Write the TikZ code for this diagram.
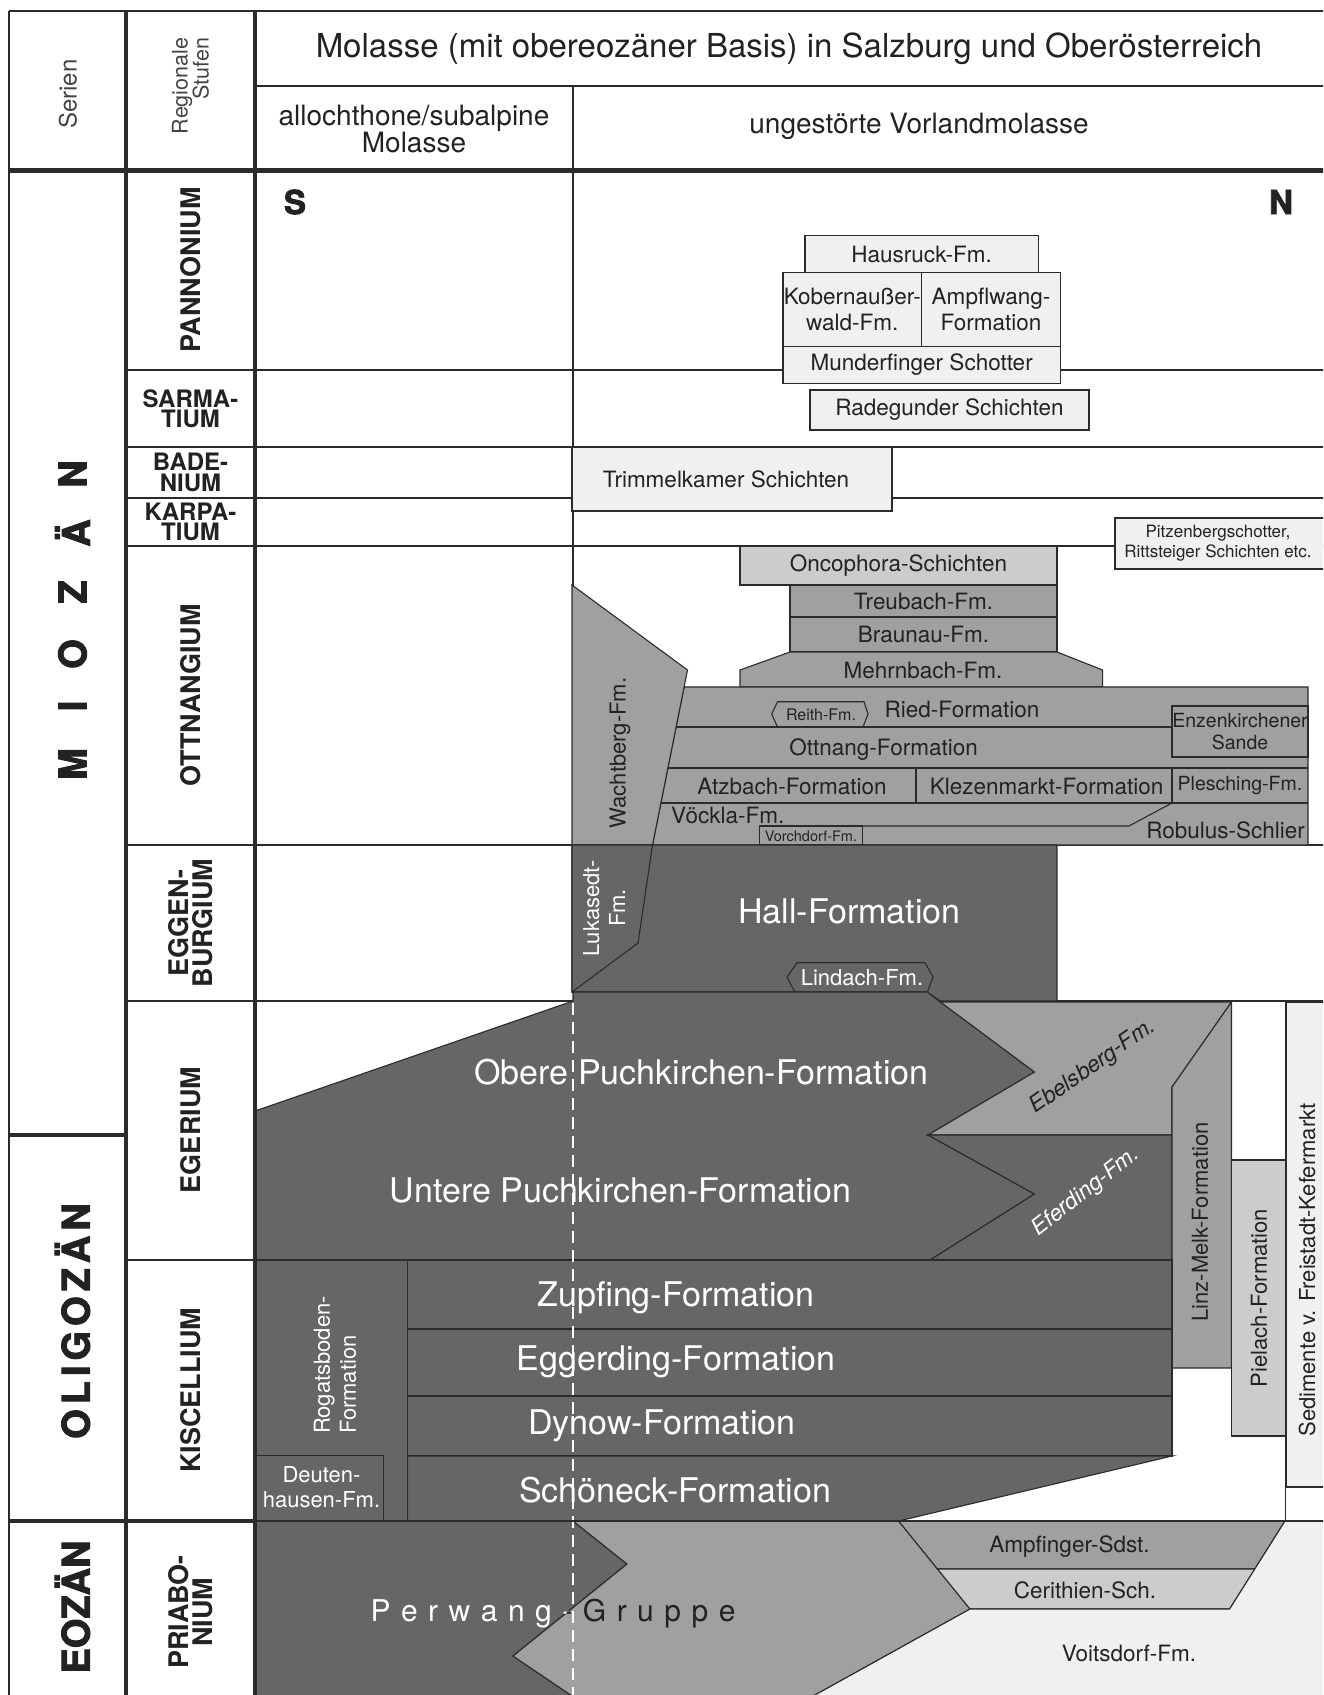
\documentclass[tikz,border=0pt]{standalone}
\usepackage{fontspec}
\setmainfont{TeX Gyre Heros}
\newfontfamily\heavyf[FakeBold=2.4]{TeX Gyre Heros}
\definecolor{dk}{HTML}{666666}
\definecolor{md}{HTML}{A0A0A0}
\definecolor{lt}{HTML}{CCCCCC}
\definecolor{pl}{HTML}{F0F0F0}
\definecolor{lc}{HTML}{2B2B2B}
\definecolor{tc}{HTML}{222222}
\newcommand\fsz[2]{\fontsize{#1}{#2}\selectfont}
\newcommand\perwangtxt{P\kern10.5pt e\kern10.5pt r\kern10.5pt w\kern10.5pt a\kern10.5pt n\kern10.5pt g\kern10.5pt -\kern10.5pt G\kern10.5pt r\kern10.5pt u\kern10.5pt p\kern10.5pt p\kern10.5pt e}
\begin{document}
\begin{tikzpicture}[x=1pt,y=-1pt,
  gridln/.style={draw=lc, line width=1.2pt},
  reg/.style={draw=lc, line width=1.1pt, line join=miter},
  txt/.style={inner sep=0pt, text=tc, align=center, font=\fsz{22.5}{26}},
  wtx/.style={txt, text=white},
  bigw/.style={inner sep=0pt, text=white, font=\fsz{34}{38}},
  stage/.style={inner sep=0pt, text=tc, align=center, font=\bfseries\fsz{27}{24}},
  stagesm/.style={stage, font=\bfseries\fsz{24}{20.5}},
  epoch/.style={inner sep=0pt, text=tc, font=\heavyf\bfseries\fsz{38}{40}}]
\clip (0,0) rectangle (1323,1695);
\fill[white] (0,0) rectangle (1323,1695);

% --- table grid -------------------------------------------------------
\draw[gridln] (9,11) -- (1330,11);
\draw[gridln] (9,11) -- (9,1700);
\draw[gridln] (255,86) -- (1330,86);
\draw[gridln] (573,86) -- (573,845);
\foreach \yy in {370,447,498,546,845,1001}
  \draw[gridln] (126,\yy) -- (1330,\yy);
\draw[gridln] (126,1260) -- (255,1260);
\draw[gridln] (1285.5,1487) -- (1285.5,1521);

% --- Pannonium to Karpatium --------------------------------------------
\path[reg, fill=pl] (805,235.7) rectangle (1038.4,272.7);
\path[reg, fill=pl] (783,272.7) rectangle (921.7,346.7);
\path[reg, fill=pl] (921.7,272.7) rectangle (1060.4,346.7);
\path[reg, fill=pl] (783,346.7) rectangle (1060.4,383.3);
\path[reg, fill=pl] (810,390) rectangle (1089,430);
\path[reg, fill=pl] (572,447) rectangle (892,511);
\path[reg, fill=pl] (1115,518) rectangle (1340,569);

% --- Ottnangium -----------------------------------------------------------
\path[reg, fill=lt] (740,546) rectangle (1057,585);
\path[reg, fill=md] (790,585) rectangle (1057,617);
\path[reg, fill=md] (790,617) rectangle (1057,652);
\path[reg, fill=md] (790,652) -- (1057,652) -- (1102.6,670) -- (1102.6,687)
  -- (740,687) -- (740,670) -- cycle;
\path[reg, fill=md] (684.1,687) -- (1308,687) -- (1308,845) -- (652.5,845) -- cycle;
\path[reg, fill=md] (572,585) -- (687.5,670) -- (652.5,845) -- (572,845) -- cycle;
\draw[reg] (676.1,727) -- (1172,727);
\draw[reg] (667.9,768) -- (1308,768);
\draw[reg] (660.9,803) -- (1308,803);
\draw[reg] (916,768) -- (916,803);
\draw[reg] (1172,768) -- (1172,803);
\draw[reg] (1172,803) -- (1129,826) -- (759.5,826);
\path[reg, fill=md] (1172,706) rectangle (1308,757);
\path[reg, fill=md] (759.5,826) rectangle (862.7,845);
\path[reg] (771.7,714) -- (777.5,701.7) -- (864,701.7) -- (868,714)
  -- (863,727) -- (777.5,727) -- cycle;

% --- Eggenburgium -----------------------------------------------------
\path[reg, fill=dk] (572,845) -- (1057,845) -- (1057,1001) -- (940.4,1001)
  -- (927,992) -- (572,992) -- cycle;
\path[reg, fill=dk] (572,845) -- (652.5,845) -- (638,943) -- (572,992) -- cycle;
\path[reg] (787,977) -- (797,962.7) -- (925,962.7) -- (933,977)
  -- (927.4,992.3) -- (795,992.3) -- cycle;

% --- Egerium ----------------------------------------------------------
\path[reg, fill=dk] (255,1111) -- (573,1001) -- (573,992) -- (927,992)
  -- (1034.5,1072) -- (928,1135) -- (1034.5,1194) -- (930,1260)
  -- (255,1260) -- cycle;
\path[reg, fill=md] (940.4,1002) -- (1231.5,1002) -- (1172,1087) -- (1172,1135)
  -- (928,1135) -- (1034.5,1072) -- cycle;
\path[reg, fill=dk] (928,1135) -- (1172,1135) -- (1172,1260) -- (930,1260)
  -- (1034.5,1194) -- cycle;
\path[reg, fill=md] (1172,1087) -- (1231.5,1002) -- (1231.5,1368) -- (1172,1368) -- cycle;
\path[reg, fill=lt] (1231.5,1160) rectangle (1286,1436);
\path[reg, fill=pl] (1286,1002) rectangle (1340,1487);

% --- Kiscellium -------------------------------------------------------
\path[reg, fill=dk] (255,1260) rectangle (407.6,1521);
\path[reg, fill=dk] (255,1455.6) rectangle (383.5,1521);
\path[reg, fill=dk] (407.6,1260) rectangle (1172,1329);
\path[reg, fill=dk] (407.6,1329) rectangle (1172,1396);
\path[reg, fill=dk] (407.6,1396) rectangle (1172,1456);
\path[reg, fill=dk] (407.6,1456) -- (1172,1456) -- (898.6,1521) -- (407.6,1521) -- cycle;

% --- Priabonium -------------------------------------------------------
\path[reg, fill=dk] (255,1521) -- (573,1521) -- (627,1564) -- (513,1656)
  -- (578,1700) -- (255,1700) -- cycle;
\path[reg, fill=md] (573,1521) -- (898.6,1521) -- (970,1609) -- (806,1700)
  -- (578,1700) -- (513,1656) -- (627,1564) -- cycle;
\path[reg, fill=md] (898.6,1521) -- (1285,1521) -- (1254.8,1569) -- (937.5,1569) -- cycle;
\path[reg, fill=lt] (937.5,1569) -- (1254.8,1569) -- (1229.6,1609) -- (970,1609) -- cycle;
\path[reg, fill=pl] (970,1609) -- (1229.6,1609) -- (1285,1521) -- (1340,1521)
  -- (1340,1700) -- (806,1700) -- cycle;

% --- header texts -----------------------------------------------------
\node[rotate=90, inner sep=0pt, text=tc!85, font=\fsz{24}{28}] (serien) at (68,94) {Serien};
\node[rotate=90, inner sep=0pt, text=tc!85, align=right, font=\fsz{21.5}{21}] (regst) at (190.5,86) {Regionale\\Stufen};
\node[inner sep=0pt, text=tc, font=\fsz{33}{36}] (title) at (789,49)
  {Molasse (mit obereozäner Basis) in Salzburg und Oberösterreich};
\node[txt, font=\fsz{28}{26.5}] (alloch) at (414,129) {allochthone/subalpine\\Molasse};
\node[txt, font=\fsz{28}{28}] (vorland) at (919,126.5) {ungestörte Vorlandmolasse};
\node[epoch, font=\heavyf\bfseries\fsz{33}{33}] (south) at (295,202) {S};
\node[epoch, font=\heavyf\bfseries\fsz{33}{33}] (north) at (1281,202) {N};

% --- series -----------------------------------------------------------
\node[epoch, rotate=90] (mioM) at (72.5,764) {M};
\node[epoch, rotate=90] (mioI) at (72.5,706) {I};
\node[epoch, rotate=90] (mioO) at (72.5,654) {O};
\node[epoch, rotate=90] (mioZ) at (72.5,592) {Z};
\node[epoch, rotate=90] (mioAe) at (72.5,533) {Ä};
\node[epoch, rotate=90] (mioN) at (72.5,474) {N};
\node[epoch, rotate=90] (oligo) at (72.5,1321) {O\kern5pt L\kern5pt I\kern5pt G\kern5pt O\kern5pt Z\kern5pt Ä\kern5pt N};
\node[epoch, rotate=90] (eozaen) at (72.5,1607) {EOZÄN};

% --- regional stages --------------------------------------------------
\node[stage, rotate=90] (pann) at (190.5,270) {PANNONIUM};
\node[stagesm] (sarm) at (190.5,408.5) {SARMA-\\TIUM};
\node[stagesm] (bade) at (190.5,472.5) {BADE-\\NIUM};
\node[stagesm] (karp) at (190.5,522) {KARPA-\\TIUM};
\node[stage, rotate=90] (ottn) at (190.5,695.5) {OTTNANGIUM};
\node[stage, rotate=90] (eggb) at (190.5,923) {EGGEN-\\BURGIUM};
\node[stage, rotate=90] (eger) at (190.5,1130) {EGERIUM};
\node[stage, rotate=90] (kisc) at (190.5,1390) {KISCELLIUM};
\node[stage, rotate=90] (priab) at (190.5,1612) {PRIABO-\\NIUM};

% --- formation labels -------------------------------------------------
\node[txt] (hausruck) at (921.7,254.2) {Hausruck-Fm.};
\node[txt] (kobern) at (852.3,309.7) {Kobernaußer-\\wald-Fm.};
\node[txt] (ampflw) at (991,309.7) {Ampflwang-\\Formation};
\node[txt] (munderf) at (921.7,365) {Munderfinger Schotter};
\node[txt] (radeg) at (949.5,410) {Radegunder Schichten};
\node[txt] (trimmel) at (726,479) {Trimmelkamer Schichten};
\node[txt, font=\fsz{17}{20}] (pitzen) at (1218,543.5) {Pitzenbergschotter,\\Rittsteiger Schichten etc.};
\node[txt] (oncoph) at (898.5,565.5) {Oncophora-Schichten};
\node[txt] (treub) at (923.5,601) {Treubach-Fm.};
\node[txt] (braun) at (923.5,634.5) {Braunau-Fm.};
\node[txt] (mehrn) at (923,670) {Mehrnbach-Fm.};
\node[txt] (ried) at (962,709) {Ried-Formation};
\node[txt, font=\fsz{16}{18}] (reith) at (821,714.5) {Reith-Fm.};
\node[txt, font=\fsz{19.5}{22.5}] (enzenk) at (1240,731.5) {Enzenkirchener\\Sande};
\node[txt] (ottnang) at (883.6,750) {Ottnang-Formation};
\node[txt] (atzb) at (792,786) {Atzbach-Formation};
\node[txt] (klezen) at (1046.6,786) {Klezenmarkt-Formation};
\node[txt, font=\fsz{19.5}{22}] (plesch) at (1240,786) {Plesching-Fm.};
\node[txt, anchor=west] (voeckla) at (671,815) {Vöckla-Fm.};
\node[txt, font=\fsz{14.5}{16}] (vorchd) at (811,836) {Vorchdorf-Fm.};
\node[txt, anchor=east] (robulus) at (1305,830) {Robulus-Schlier};
\node[txt, rotate=90, font=\fsz{22}{26}] (wachtb) at (620,753) {Wachtberg-Fm.};
\node[bigw] (hall) at (849.5,911) {Hall-Formation};
\node[wtx, rotate=90, font=\fsz{22}{26}] (lukas) at (604,908) {Lukasedt-\\Fm.};
\node[wtx, font=\fsz{22}{26}] (lindach) at (862,978) {Lindach-Fm.};
\node[bigw] (oberep) at (701.5,1072) {Obere Puchkirchen-Formation};
\node[bigw] (unterep) at (620.5,1190) {Untere Puchkirchen-Formation};
\node[txt, rotate=35, font=\itshape\fsz{22.5}{26}] (ebels) at (1093,1067) {Ebelsberg-Fm.};
\node[wtx, rotate=38, font=\itshape\fsz{22.5}{26}] (eferd) at (1086,1192) {Eferding-Fm.};
\node[txt, rotate=90, font=\fsz{22}{26}] (linzm) at (1200,1222) {Linz-Melk-Formation};
\node[txt, rotate=90, font=\fsz{22}{26}] (pielach) at (1259,1298) {Pielach-Formation};
\node[txt, rotate=90, font=\fsz{22}{26}] (sedim) at (1307,1270) {Sedimente v. Freistadt-Kefermarkt};
\node[bigw] (zupf) at (676,1298) {Zupfing-Formation};
\node[bigw] (egger) at (676,1362) {Eggerding-Formation};
\node[bigw] (dynow) at (662,1426) {Dynow-Formation};
\node[bigw] (schoen) at (675,1490) {Schöneck-Formation};
\node[wtx, rotate=90, align=left, font=\fsz{22}{26}] (rogats) at (335,1365) {Rogatsboden-\\Formation};
\node[wtx, font=\fsz{22}{25}] (deuten) at (321.5,1487.5) {Deuten-\\hausen-Fm.};
\node[txt] (ampfs) at (1069.5,1546.7) {Ampfinger-Sdst.};
\node[txt] (cerith) at (1085,1590) {Cerithien-Sch.};
\node[txt] (voitsd) at (1129,1653) {Voitsdorf-Fm.};

% Perwang-Gruppe: white over the dark part, dark over the grey part
\begin{scope}
  \clip (255,1521) -- (573,1521) -- (627,1564) -- (513,1656) -- (578,1700) -- (255,1700) -- cycle;
  \node[inner sep=0pt, text=white, font=\fsz{30}{32}] (perwangw) at (553,1614) {\perwangtxt};
\end{scope}
\begin{scope}
  \clip (573,1521) -- (898.6,1521) -- (970,1609) -- (806,1700) -- (578,1700) -- (513,1656) -- (627,1564) -- cycle;
  \node[inner sep=0pt, text=tc, font=\fsz{30}{32}] (perwangd) at (553,1614) {\perwangtxt};
\end{scope}

% dashed boundary between allochthonous and foreland molasse
\draw[white, line width=1.8pt, dash pattern=on 12pt off 7pt] (573,1003) -- (573,1700);

% --- heavy frame lines ------------------------------------------------
\draw[lc, line width=5pt] (9,170) -- (1330,170);
\draw[lc, line width=3.5pt] (9,1135) -- (126,1135);
\draw[lc, line width=3.5pt] (9,1521) -- (255,1521);
\draw[lc, line width=2pt] (255,1521) -- (1330,1521);
\draw[lc, line width=4.5pt] (126,11) -- (126,1700);
\draw[lc, line width=4.5pt] (255,11) -- (255,1700);
\end{tikzpicture}
\end{document}
